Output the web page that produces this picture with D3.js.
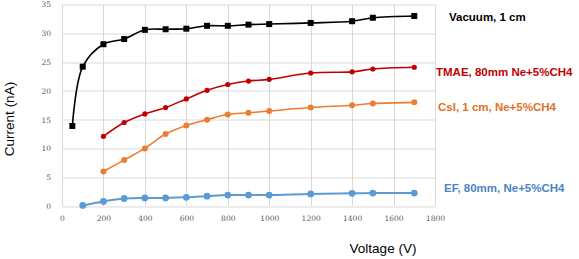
<!DOCTYPE html>
<html>
<head>
<meta charset="utf-8">
<script src="https://cdn.jsdelivr.net/npm/d3@7"></script>
<style>
  body { margin: 0; background: #fff; }
  svg { display: block; }
  .tick text { font-family: "DejaVu Serif", serif; font-size: 7.5px; fill: #595959; }
  .grid line { stroke: #d9d9d9; stroke-width: 1; }
  .label { font-family: "Liberation Sans", Arial, sans-serif; }
</style>
</head>
<body>
<div id="chart"></div>
<script>
// values
var vacuumV = [50, 100, 200, 300, 400, 500, 600, 700, 800, 900, 1000, 1200, 1400, 1500, 1700];
var vacuumI = [13.9, 24.2, 28.1, 29, 30.6, 30.7, 30.8, 31.3, 31.3, 31.5, 31.6, 31.8, 32.1, 32.7, 33];

var tmaeV = [200, 300, 400, 500, 600, 700, 800, 900, 1000, 1200, 1400, 1500, 1700];
var tmaeI = [12.1, 14.5, 16, 17.1, 18.6, 20.1, 21.1, 21.7, 22, 23.1, 23.3, 23.8, 24.1];

var csiV = [200, 300, 400, 500, 600, 700, 800, 900, 1000, 1200, 1400, 1500, 1700];
var csiI = [6, 8, 10, 12.5, 14, 15, 15.9, 16.2, 16.5, 17.1, 17.5, 17.8, 18];

var efV = [100, 200, 300, 400, 500, 600, 700, 800, 900, 1000, 1200, 1400, 1500, 1700];
var efI = [0.1, 0.8, 1.3, 1.4, 1.4, 1.5, 1.7, 1.9, 1.9, 1.9, 2.1, 2.2, 2.25, 2.25];

var xTicks = [0, 200, 400, 600, 800, 1000, 1200, 1400, 1600, 1800];
var yTicks = [0, 5, 10, 15, 20, 25, 30, 35];

var seriesNames = ["Vacuum, 1 cm", "TMAE, 80mm Ne+5%CH4", "CsI, 1 cm, Ne+5%CH4", "EF, 80mm, Ne+5%CH4"];

var W = 579, H = 259;
var margin = {top: 4.5, right: 144, bottom: 53, left: 62};
var width = W - margin.left - margin.right,
    height = H - margin.top - margin.bottom;

var svg = d3.select("#chart").append("svg")
    .attr("width", W)
    .attr("height", H);

var g = svg.append("g")
    .attr("transform", "translate(" + margin.left + "," + margin.top + ")");

var x = d3.scaleLinear().domain([0, 1800]).range([0, width]);
var y = d3.scaleLinear().domain([0, 35]).range([height, 0]);

// grid
g.append("g").attr("class", "grid")
    .selectAll("line.v").data(xTicks).enter().append("line")
    .attr("x1", function(d) { return Math.round(x(d)) + 0.5; })
    .attr("x2", function(d) { return Math.round(x(d)) + 0.5; })
    .attr("y1", 0).attr("y2", height);

g.append("g").attr("class", "grid")
    .selectAll("line.h").data(yTicks).enter().append("line")
    .attr("y1", function(d) { return Math.round(y(d)) + 0.5; })
    .attr("y2", function(d) { return Math.round(y(d)) + 0.5; })
    .attr("x1", 0).attr("x2", width);

// axes
var xAxis = d3.axisBottom(x).tickValues(xTicks).tickFormat(d3.format("d")).tickSize(0).tickPadding(10);
var yAxis = d3.axisLeft(y).tickValues(yTicks).tickFormat(d3.format("d")).tickSize(0).tickPadding(11);

g.append("g").attr("transform", "translate(0," + height + ")").call(xAxis)
    .select(".domain").remove();
g.append("g").call(yAxis)
    .select(".domain").remove();

svg.append("text")
    .attr("class", "label")
    .attr("transform", "rotate(-90)")
    .attr("x", -119)
    .attr("y", 14)
    .attr("text-anchor", "middle")
    .attr("font-size", 13.5)
    .text("Current (nA)");

svg.append("text")
    .attr("class", "label")
    .attr("x", 383)
    .attr("y", 253)
    .attr("text-anchor", "middle")
    .attr("font-size", 13.5)
    .text("Voltage (V)");

function pairs(xs, ys) {
    return xs.map(function(v, i) { return [v, ys[i]]; });
}

var line = d3.line()
    .x(function(d) { return x(d[0]); })
    .y(function(d) { return y(d[1]); })
    .curve(d3.curveCatmullRom.alpha(0.5));

var series = [
    {name: seriesNames[0], data: pairs(vacuumV, vacuumI), color: "#000000", w: 1.6, marker: "square", r: 3},
    {name: seriesNames[1], data: pairs(tmaeV, tmaeI), color: "#c00000", w: 1.6, marker: "circle", r: 2.6},
    {name: seriesNames[2], data: pairs(csiV, csiI), color: "#ed7d31", w: 1.6, marker: "circle", r: 3},
    {name: seriesNames[3], data: pairs(efV, efI), color: "#5b9bd5", w: 2, marker: "circle", r: 3.4}
];

series.forEach(function(s) {
    g.append("path")
        .datum(s.data)
        .attr("fill", "none")
        .attr("stroke", s.color)
        .attr("stroke-width", s.w)
        .attr("d", line);

    if (s.marker === "square") {
        g.selectAll(null).data(s.data).enter().append("rect")
            .attr("x", function(d) { return x(d[0]) - s.r; })
            .attr("y", function(d) { return y(d[1]) - s.r; })
            .attr("width", s.r * 2)
            .attr("height", s.r * 2)
            .attr("fill", s.color);
    } else {
        g.selectAll(null).data(s.data).enter().append("circle")
            .attr("cx", function(d) { return x(d[0]); })
            .attr("cy", function(d) { return y(d[1]); })
            .attr("r", s.r)
            .attr("fill", s.color);
    }
});

// labels at right
var labelColors = ["#000000", "#c00000", "#e2702a", "#4a86c5"];
var labelPos = [[449, 21], [436, 76], [438, 111], [444, 192]];
series.forEach(function(s, i) {
    svg.append("text")
        .attr("class", "label")
        .attr("x", labelPos[i][0])
        .attr("y", labelPos[i][1])
        .attr("font-size", 11.5)
        .attr("fill", labelColors[i])
        .attr("font-weight", "bold")
        .text(s.name);
});
</script>
</body>
</html>
